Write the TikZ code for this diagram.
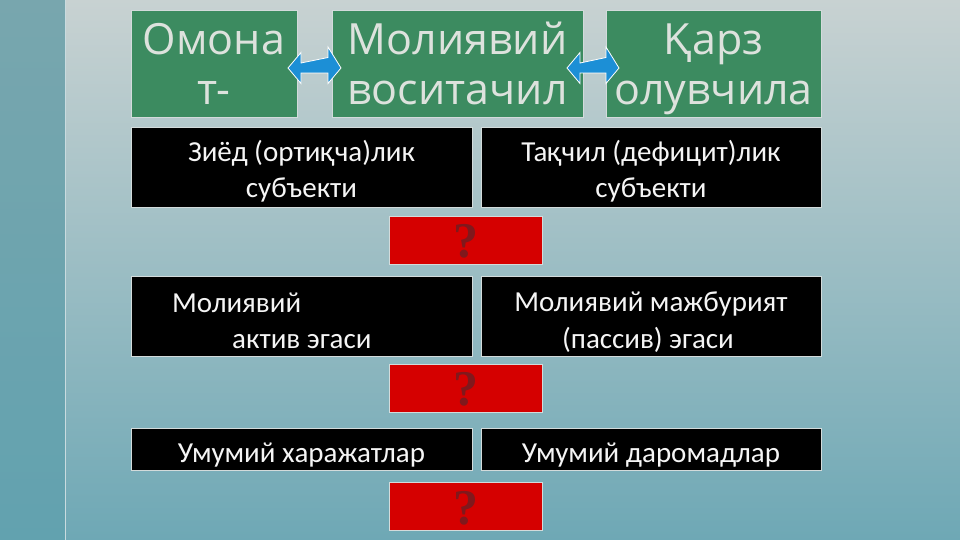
\documentclass[tikz,border=0pt]{standalone}
\usepackage{fontspec}
\setmainfont{Carlito}
\newfontfamily\osans{Open Sans}
\newfontfamily\qfont{Liberation Serif}
\definecolor{gbox}{HTML}{3C8B60}
\definecolor{gtext}{HTML}{DDE2DD}
\definecolor{bord}{HTML}{D3DBDB}
\definecolor{rbox}{HTML}{D50000}
\definecolor{qcol}{HTML}{80181C}
\definecolor{arr}{HTML}{1C8FD6}
\definecolor{bgtop}{HTML}{C8D2D2}
\definecolor{bgbot}{HTML}{6EA8B5}
\definecolor{bandtop}{HTML}{78A6AE}
\definecolor{bandbot}{HTML}{62A2AF}
\tikzset{
  box/.style={draw=bord, line width=0.8pt, inner sep=0pt, minimum width=#1},
  greenbox/.style={box=#1, fill=gbox, minimum height=107},
  blackbox/.style={box=#1, fill=black},
  redbox/.style={box=153, fill=rbox, minimum height=48},
  gtxt/.style={anchor=base, inner sep=0pt, text=gtext, font=\osans\fontsize{43}{50}\selectfont},
  btxt/.style={anchor=base, inner sep=0pt, text=white!92!gray, font=\fontsize{29}{35}\selectfont},
  qtxt/.style={anchor=base, inner sep=0pt, text=qcol, font=\qfont\bfseries\fontsize{50}{50}\selectfont},
  blockarrow/.style={fill=arr, draw=white, line width=0.8pt, line join=miter}
}
\begin{document}
\begin{tikzpicture}[x=1pt,y=-1pt]
\useasboundingbox (0,0) rectangle (960,540);
% background
\shade[top color=bgtop, bottom color=bgbot] (65,0) rectangle (960,540);
\shade[top color=bandtop, bottom color=bandbot] (0,0) rectangle (65,540);
\draw[white!60!bandtop, line width=0.8pt] (65,0) -- (65,540);

% green boxes
\node[greenbox=166] (g1) at (214,63.5) {};
\node[greenbox=251] (g2) at (457.5,63.5) {};
\node[greenbox=215] (g3) at (713.5,63.5) {};
\node[gtxt] (g1a) at (214,55) {Омона};
\node[gtxt] (g1b) at (214,105) {т-};
\node[gtxt] (g2a) at (457.5,55) {Молиявий};
\node[gtxt] (g2b) at (457.5,105) {воситачил};
\node[gtxt] (g3a) at (713.5,55) {Қарз};
\node[gtxt] (g3b) at (713.5,105) {олувчила};

% block arrows
\coordinate (a1l) at (288,68);
\coordinate (a1r) at (341,68);
\draw[blockarrow] (a1l) -- ++(13,-15.5) -- ++(0,10.5) -- (328,57.5) -- ++(0,-10.5) -- (a1r)
  -- (328,83.5) -- ++(0,-10.5) -- (301,73) -- ++(0,10.5) -- cycle;
\coordinate (a2l) at (567,68);
\coordinate (a2r) at (619,68);
\draw[blockarrow] (a2l) -- ++(13,-15.5) -- ++(0,10.5) -- (606,57.5) -- ++(0,-10.5) -- (a2r)
  -- (606,83.5) -- ++(0,-10.5) -- (580,73) -- ++(0,10.5) -- cycle;

% row 1
\node[blackbox=341, minimum height=80] (b1l) at (301.5,167) {};
\node[blackbox=340, minimum height=80] (b1r) at (651,167) {};
\node[btxt] (b1la) at (301.5,162) {Зиёд (ортиқча)лик};
\node[btxt] (b1lb) at (301.5,197) {субъекти};
\node[btxt] (b1ra) at (651,162) {Тақчил (дефицит)лик};
\node[btxt] (b1rb) at (651,197) {субъекти};
\node[redbox] (r1) at (465.5,240) {};
\node[qtxt] (q1) at (465.5,257) {?};

% row 2
\node[blackbox=341, minimum height=80] (b2l) at (301.5,316) {};
\node[blackbox=340, minimum height=80] (b2r) at (651,316) {};
\node[btxt, anchor=base west] (b2la) at (172,312) {Молиявий};
\node[btxt, anchor=base west] (b2lb) at (232,348) {актив эгаси};
\node[btxt] (b2ra) at (651,311) {Молиявий мажбурият};
\node[btxt] (b2rb) at (648,348) {(пассив) эгаси};
\node[redbox] (r2) at (465.5,388) {};
\node[qtxt] (q2) at (465.5,405) {?};

% row 3
\node[blackbox=341, minimum height=42] (b3l) at (301.5,449) {};
\node[blackbox=340, minimum height=42] (b3r) at (651,449) {};
\node[btxt] (b3la) at (301.5,462) {Умумий харажатлар};
\node[btxt] (b3ra) at (651,462) {Умумий даромадлар};
\node[redbox] (r3) at (465.5,506) {};
\node[qtxt] (q3) at (465.5,524) {?};
\end{tikzpicture}
\end{document}
